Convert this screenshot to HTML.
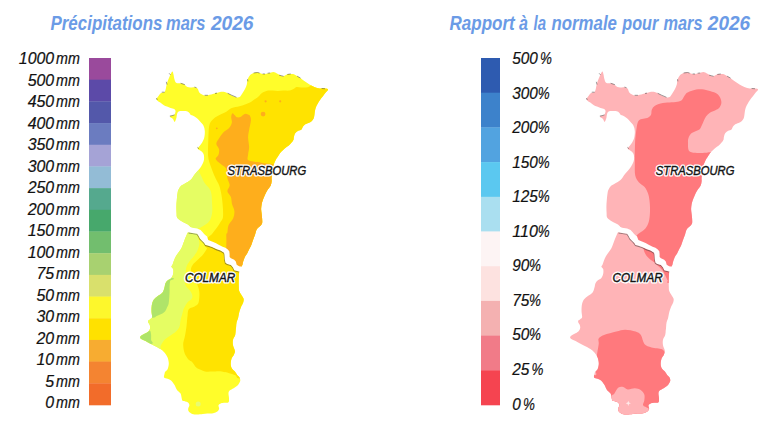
<!DOCTYPE html>
<html><head><meta charset="utf-8"><title>Précipitations mars 2026</title>
<style>
html,body{margin:0;padding:0;background:#fff;}
body{width:784px;height:426px;overflow:hidden;font-family:"Liberation Sans", sans-serif;}
svg{display:block;}
text{font-family:"Liberation Sans", sans-serif;}
.lg text{font-style:italic;font-size:16px;fill:#111;stroke:#111;stroke-width:0.2px;}
.title{font-style:italic;font-weight:bold;font-size:20px;fill:#6b9be6;}
.city{font-style:italic;font-size:12px;fill:#141414;stroke:#141414;stroke-width:0.4px;}
.city.halo{stroke:#fff;stroke-width:3px;stroke-linejoin:round;fill:#fff;}
</style></head>
<body>
<svg width="784" height="426" viewBox="0 0 784 426">
<defs>
</defs>
<clipPath id="lm_o"><path d="M172.4,71.4 C172.9,71.5 173.2,73.1 173.5,74.4 C173.8,75.7 174.0,77.8 174.4,79.1 C174.8,80.4 175.0,81.7 175.8,82.4 C176.6,83.1 177.9,83.1 179.1,83.3 C180.3,83.5 181.9,83.5 182.9,83.8 C183.9,84.1 184.4,84.7 185.2,85.2 C186.0,85.8 186.6,86.7 187.6,87.1 C188.6,87.5 190.2,87.4 191.4,87.4 C192.7,87.5 194.1,87.2 195.1,87.4 C196.1,87.6 197.0,87.8 197.7,88.7 C198.4,89.6 198.6,91.7 199.5,92.7 C200.4,93.7 201.8,94.5 203.0,94.9 C204.2,95.4 204.9,95.6 206.6,95.4 C208.2,95.2 210.8,94.5 212.9,94.0 C215.0,93.5 217.3,92.6 219.1,92.2 C220.9,91.8 222.3,91.7 223.6,91.8 C224.9,91.9 225.8,92.5 227.1,93.1 C228.4,93.7 230.1,94.7 231.6,95.4 C233.1,96.1 234.8,97.0 236.1,97.3 C237.4,97.6 238.6,97.7 239.6,97.1 C240.6,96.5 241.4,94.9 242.3,93.6 C243.2,92.3 244.2,90.6 245.0,89.1 C245.8,87.6 246.4,86.2 246.8,84.6 C247.2,83.0 247.1,80.9 247.7,79.3 C248.3,77.7 249.4,75.8 250.4,74.8 C251.4,73.8 252.7,73.4 253.9,73.0 C255.1,72.6 256.3,72.5 257.5,72.6 C258.7,72.7 260.1,73.2 261.1,73.5 C262.1,73.8 262.3,74.1 263.6,74.1 C264.9,74.0 267.3,73.5 268.9,73.2 C270.5,72.9 272.0,71.9 273.4,72.0 C274.8,72.1 275.8,73.0 277.0,73.6 C278.2,74.2 279.5,75.0 280.5,75.4 C281.5,75.9 282.1,76.5 283.2,76.3 C284.2,76.1 285.8,74.9 286.8,74.5 C287.9,74.1 288.5,74.2 289.5,74.1 C290.5,74.0 291.8,73.8 293.0,74.1 C294.2,74.4 295.6,75.2 296.6,75.8 C297.7,76.4 298.2,76.9 299.3,77.6 C300.4,78.3 301.6,79.0 302.9,79.9 C304.2,80.8 305.8,82.0 307.3,83.0 C308.8,84.0 310.2,84.9 311.8,85.7 C313.4,86.5 315.3,87.4 317.1,87.9 C318.9,88.4 320.7,88.4 322.5,88.6 C324.3,88.8 327.5,88.5 328.0,89.2 C328.5,89.9 326.6,91.3 325.7,92.5 C324.8,93.7 323.8,95.0 322.9,96.3 C321.9,97.5 320.9,98.8 320.0,100.0 C319.1,101.2 318.4,102.5 317.7,103.8 C317.0,105.0 316.3,106.2 315.8,107.5 C315.3,108.8 315.1,110.0 314.9,111.3 C314.7,112.5 314.6,113.8 314.4,115.0 C314.2,116.2 314.0,117.8 313.5,118.8 C313.0,119.8 312.4,120.6 311.6,121.3 C310.8,122.0 309.6,122.5 308.5,123.0 C307.4,123.5 305.9,123.9 305.0,124.5 C304.1,125.1 303.6,125.7 303.0,126.5 C302.4,127.3 302.3,128.7 301.5,129.4 C300.7,130.1 299.2,130.2 298.2,130.8 C297.2,131.4 296.1,132.1 295.4,133.1 C294.7,134.1 294.2,135.8 293.9,136.9 C293.6,138.0 293.9,138.8 293.5,139.7 C293.1,140.6 292.4,141.6 291.6,142.5 C290.8,143.4 289.9,144.5 288.8,145.4 C287.7,146.3 286.2,147.2 285.0,148.2 C283.8,149.2 282.4,150.5 281.5,151.5 C280.6,152.5 280.1,153.1 279.5,154.0 C278.9,154.9 278.2,156.2 277.6,157.0 C277.1,157.8 276.7,158.2 276.2,159.0 C275.7,159.8 275.2,161.0 274.8,162.0 C274.4,163.0 273.9,163.7 273.5,165.0 C273.1,166.3 272.8,167.9 272.5,170.0 C272.2,172.1 271.8,175.9 271.6,177.8 C271.5,179.7 271.8,180.3 271.6,181.6 C271.5,182.9 271.2,184.3 270.7,185.4 C270.2,186.5 269.4,187.3 268.8,188.2 C268.2,189.1 267.5,189.9 266.9,191.0 C266.3,192.1 265.6,193.5 265.0,194.7 C264.4,195.9 264.0,196.9 263.6,198.0 C263.2,199.1 262.8,199.9 262.5,201.0 C262.2,202.1 261.8,203.1 261.6,204.4 C261.4,205.8 261.1,207.5 261.1,209.1 C261.1,210.7 261.4,212.2 261.6,213.8 C261.8,215.4 262.0,216.9 262.1,218.5 C262.2,220.1 262.4,221.9 262.1,223.2 C261.8,224.4 260.9,225.2 260.2,226.0 C259.5,226.8 258.5,227.2 257.8,227.9 C257.1,228.7 256.7,229.3 256.2,230.5 C255.7,231.7 255.5,233.3 255.0,234.8 C254.5,236.3 253.8,237.7 253.2,239.4 C252.6,241.1 251.9,243.4 251.3,245.0 C250.7,246.6 250.1,247.4 249.4,248.8 C248.7,250.2 247.9,252.1 247.1,253.5 C246.3,254.9 245.3,255.9 244.7,257.2 C244.1,258.4 243.7,259.8 243.3,261.0 C242.9,262.2 242.7,263.8 242.4,264.7 C242.1,265.6 241.9,265.8 241.5,266.5 C241.1,267.2 240.4,268.1 240.0,269.0 C239.6,269.9 239.4,270.1 239.2,271.7 C239.0,273.3 238.9,276.4 238.8,278.8 C238.7,281.2 238.7,284.3 238.8,286.3 C238.9,288.3 238.7,289.5 239.2,291.0 C239.7,292.5 240.9,293.9 241.6,295.2 C242.3,296.5 243.3,297.6 243.6,298.8 C243.9,300.0 243.6,301.2 243.2,302.5 C242.8,303.8 241.9,305.1 241.3,306.3 C240.8,307.6 240.3,308.8 239.9,310.0 C239.5,311.2 239.2,312.4 238.9,313.8 C238.6,315.2 238.4,317.1 238.0,318.5 C237.6,319.9 236.9,320.8 236.6,322.2 C236.3,323.6 236.2,325.5 236.1,326.9 C235.9,328.3 235.8,329.3 235.7,330.7 C235.5,332.1 235.6,333.5 235.2,335.0 C234.8,336.5 233.4,338.0 233.0,339.7 C232.6,341.4 232.7,343.4 233.0,345.3 C233.3,347.2 234.8,349.4 234.9,351.0 C235.1,352.6 234.5,353.4 233.9,354.7 C233.3,355.9 232.1,357.1 231.6,358.5 C231.1,359.9 230.7,361.6 230.7,363.2 C230.7,364.8 230.9,366.5 231.6,367.9 C232.3,369.3 234.0,370.4 234.9,371.6 C235.8,372.8 236.4,374.0 237.2,375.0 C238.0,376.0 239.1,376.6 239.6,377.6 C240.1,378.6 240.5,379.8 240.2,381.1 C239.9,382.4 238.9,384.0 237.8,385.2 C236.7,386.4 235.1,387.3 233.7,388.2 C232.3,389.1 230.5,389.6 229.6,390.5 C228.7,391.4 228.6,392.2 228.5,393.5 C228.4,394.8 229.0,396.7 229.0,398.2 C229.0,399.7 229.2,401.5 228.5,402.3 C227.8,403.1 226.2,402.6 224.9,402.8 C223.6,403.0 221.9,403.0 220.8,403.4 C219.7,403.8 218.8,404.3 218.5,405.2 C218.2,406.1 219.3,407.6 219.1,408.7 C218.9,409.8 218.3,410.9 217.3,411.6 C216.3,412.4 214.9,412.9 213.2,413.2 C211.5,413.5 209.0,413.5 207.3,413.6 C205.6,413.7 204.5,413.8 202.8,414.0 C201.1,414.2 198.8,414.6 197.0,414.6 C195.2,414.6 193.7,414.5 192.3,414.0 C190.9,413.5 189.5,412.5 188.8,411.6 C188.1,410.7 188.1,409.8 188.2,408.7 C188.3,407.6 189.5,406.3 189.4,405.2 C189.3,404.1 188.7,403.0 187.6,402.3 C186.5,401.6 183.9,401.8 182.9,401.1 C181.9,400.4 182.1,399.5 181.7,398.2 C181.3,396.9 181.4,394.9 180.6,393.5 C179.8,392.1 178.0,391.3 177.0,389.9 C176.0,388.5 175.3,386.3 174.7,385.2 C174.1,384.1 174.1,384.2 173.5,383.4 C172.9,382.6 172.1,381.3 171.1,380.5 C170.1,379.7 168.8,379.2 167.6,378.7 C166.4,378.2 164.6,378.3 164.1,377.5 C163.6,376.7 164.3,375.0 164.5,374.0 C164.7,373.0 164.7,372.5 165.2,371.7 C165.7,370.9 167.0,370.7 167.6,369.3 C168.2,367.9 168.8,365.4 168.8,363.5 C168.8,361.6 168.2,359.3 167.6,357.6 C167.0,355.9 166.2,354.8 165.2,353.5 C164.2,352.2 163.2,351.2 161.7,350.0 C160.1,348.8 157.8,347.6 155.9,346.5 C154.0,345.4 151.7,344.4 150.0,343.5 C148.3,342.6 147.0,341.9 145.6,341.1 C144.2,340.4 142.2,339.7 141.3,339.0 C140.4,338.3 139.9,337.6 140.1,336.9 C140.3,336.2 141.8,335.3 142.7,334.7 C143.6,334.1 144.5,333.9 145.5,333.3 C146.5,332.7 148.0,331.8 148.8,330.9 C149.6,330.0 150.0,329.1 150.2,328.1 C150.3,327.1 150.0,325.7 149.7,324.8 C149.4,323.9 148.5,323.2 148.3,322.5 C148.1,321.8 148.0,321.2 148.3,320.6 C148.6,320.1 149.6,319.8 150.2,319.2 C150.8,318.6 151.9,318.5 152.1,317.3 C152.3,316.1 151.7,313.8 151.6,312.2 C151.5,310.6 151.5,308.9 151.6,307.5 C151.7,306.1 151.8,304.8 152.1,303.7 C152.4,302.6 152.8,301.6 153.2,300.8 C153.6,300.0 153.6,299.8 154.4,299.0 C155.2,298.2 156.5,297.2 157.9,296.1 C159.3,295.0 161.5,293.9 162.6,292.5 C163.7,291.1 163.9,289.4 164.4,287.8 C164.9,286.2 164.9,284.5 165.5,283.2 C166.1,281.9 166.9,281.1 167.9,280.2 C168.9,279.3 170.5,279.0 171.4,277.9 C172.3,276.8 172.9,275.3 173.2,273.8 C173.5,272.3 173.5,270.3 173.2,269.1 C172.9,267.9 171.5,267.5 171.4,266.7 C171.3,265.9 172.1,265.6 172.6,264.4 C173.1,263.2 173.6,261.3 174.3,259.7 C175.0,258.1 175.5,256.9 176.7,255.0 C177.9,253.1 180.2,250.5 181.4,248.2 C182.7,245.9 183.0,243.9 184.2,241.1 C185.3,238.3 187.1,233.6 188.3,231.6 C189.5,229.6 191.3,230.0 191.5,229.0 C191.7,228.0 190.1,226.6 189.3,225.7 C188.5,224.8 187.5,224.4 186.5,223.8 C185.5,223.2 184.5,222.8 183.4,222.2 C182.3,221.6 181.1,221.0 180.0,220.2 C178.9,219.4 177.7,218.7 177.1,217.5 C176.5,216.3 176.7,214.8 176.6,213.0 C176.5,211.2 176.4,209.2 176.4,207.0 C176.4,204.8 176.6,202.3 176.8,200.0 C177.0,197.7 177.3,194.7 177.6,192.9 C177.9,191.2 178.0,190.7 178.6,189.5 C179.2,188.3 180.0,186.8 181.1,185.8 C182.2,184.8 183.4,184.5 185.0,183.5 C186.6,182.5 188.8,181.6 190.5,180.0 C192.2,178.4 193.4,176.0 195.0,174.0 C196.6,172.0 198.8,169.5 199.9,168.2 C201.0,166.9 200.7,167.3 201.3,166.3 C201.9,165.3 202.9,163.5 203.4,162.1 C203.9,160.7 204.1,159.3 204.1,157.9 C204.1,156.5 204.0,154.9 203.4,153.7 C202.8,152.5 201.6,151.6 200.6,150.8 C199.6,150.0 198.0,149.3 197.7,148.7 C197.3,148.1 197.9,148.1 198.5,147.3 C199.1,146.5 200.4,145.3 201.3,143.8 C202.2,142.3 203.5,140.3 204.1,138.2 C204.7,136.1 204.9,133.2 204.8,131.1 C204.7,129.0 204.2,127.1 203.4,125.5 C202.6,123.9 200.9,122.5 199.9,121.3 C198.9,120.1 198.2,119.4 197.3,118.6 C196.4,117.8 195.6,117.0 194.5,116.4 C193.4,115.8 191.8,115.6 191.0,115.1 C190.2,114.6 190.2,113.9 189.6,113.3 C189.0,112.7 188.4,111.9 187.5,111.5 C186.6,111.1 185.1,111.2 183.9,111.1 C182.7,111.0 181.4,111.0 180.4,111.1 C179.4,111.2 178.6,111.3 178.0,111.9 C177.4,112.5 177.2,113.8 176.9,114.7 C176.7,115.6 176.7,116.5 176.5,117.5 C176.3,118.5 175.8,119.7 175.5,120.4 C175.2,121.1 174.8,122.0 174.4,121.8 C174.0,121.5 173.6,119.6 173.0,118.9 C172.4,118.2 171.1,118.0 170.6,117.5 C170.1,117.0 170.0,116.4 170.2,116.1 C170.4,115.8 171.3,116.0 172.0,115.8 C172.7,115.6 173.6,115.5 174.1,115.1 C174.6,114.7 174.9,114.0 175.1,113.3 C175.3,112.6 175.7,111.5 175.5,110.8 C175.3,110.1 174.9,109.6 174.1,109.1 C173.3,108.6 171.8,108.4 170.6,108.0 C169.4,107.6 168.2,107.1 167.0,106.6 C165.8,106.1 164.6,105.6 163.5,104.9 C162.4,104.2 161.3,103.3 160.3,102.6 C159.3,101.9 158.1,101.3 157.5,100.7 C156.9,100.1 156.4,99.6 156.6,98.8 C156.8,98.0 157.8,96.9 158.5,96.0 C159.2,95.1 159.9,93.8 160.8,93.2 C161.7,92.6 163.3,92.8 164.1,92.3 C164.9,91.8 165.1,91.0 165.5,89.9 C165.9,88.8 166.1,87.0 166.4,85.7 C166.7,84.4 166.9,83.3 167.4,81.9 C167.9,80.5 168.8,78.5 169.3,77.2 C169.9,75.9 170.2,74.9 170.7,73.9 C171.2,72.9 171.9,71.3 172.4,71.4 Z"/></clipPath>
<clipPath id="lm_n"><path d="M100.0,30.0 L380.0,30.0 L380.0,271.3 L244.0,269.5 L239.0,269.2 L235.2,267.8 L234.8,265.0 L232.5,262.6 L229.0,261.2 L227.2,259.5 L227.2,255.0 L225.8,251.5 L222.7,249.3 L216.9,246.3 L210.5,242.5 L206.8,240.3 L203.3,237.3 L201.5,234.5 L198.7,231.5 L194.1,230.5 L188.3,229.2 L184.0,228.8 L100.0,228.8 Z"/></clipPath>
<clipPath id="lm_s"><path d="M100.0,228.8 L184.0,228.8 L188.3,229.2 L194.1,230.5 L198.7,231.5 L201.5,234.5 L203.3,237.3 L206.8,240.3 L210.5,242.5 L216.9,246.3 L222.7,249.3 L225.8,251.5 L227.2,255.0 L227.2,259.5 L229.0,261.2 L232.5,262.6 L234.8,265.0 L235.2,267.8 L239.0,269.2 L244.0,269.5 L380.0,271.3 L380.0,440.0 L100.0,440.0 Z"/></clipPath>
<g clip-path="url(#lm_o)">
<rect x="120" y="60" width="220" height="370" fill="#fffd2a"/>
<g clip-path="url(#lm_n)">
<path d="M198.5,170.5 C199.6,172.3 200.7,175.0 201.7,177.0 C202.7,179.0 203.0,180.5 204.3,182.6 C205.7,184.7 208.6,187.3 209.8,189.3 C211.0,191.3 211.1,192.4 211.5,194.5 C211.9,196.6 211.9,199.3 212.0,202.0 C212.1,204.7 212.5,208.1 212.3,210.7 C212.1,213.3 211.7,215.8 211.0,217.8 C210.3,219.8 209.5,221.3 208.0,222.8 C206.5,224.3 204.1,225.6 202.0,226.7 C199.9,227.8 200.5,227.9 195.2,229.5 C189.9,231.1 174.5,246.2 170.0,236.0 C165.5,225.8 163.8,179.7 168.0,168.0 C172.2,156.3 189.9,165.6 195.0,166.0 C200.1,166.4 197.4,168.7 198.5,170.5 Z" fill="#e5fd63"/>
<path d="M206.0,242.0 C203.7,239.0 210.2,236.4 212.0,234.0 C213.8,231.6 215.6,229.5 217.0,227.5 C218.4,225.5 219.5,223.7 220.5,222.0 C221.5,220.3 222.5,219.8 222.9,217.5 C223.3,215.2 223.1,211.5 222.9,208.0 C222.7,204.5 222.3,200.1 221.7,196.4 C221.1,192.7 220.3,188.7 219.3,185.8 C218.3,182.9 217.0,181.4 215.8,178.8 C214.6,176.2 213.5,173.8 212.3,170.5 C211.1,167.2 209.2,162.5 208.5,159.0 C207.8,155.5 208.0,152.6 208.0,149.4 C208.0,146.2 208.2,142.9 208.3,140.0 C208.4,137.1 208.4,134.3 208.6,132.0 C208.8,129.7 208.8,127.8 209.2,126.0 C209.6,124.2 210.0,122.9 211.0,121.5 C212.0,120.1 213.6,118.6 215.0,117.5 C216.4,116.4 217.9,115.8 219.5,115.0 C221.1,114.2 223.0,113.5 224.4,112.8 C225.8,112.0 226.8,111.3 228.0,110.5 C229.2,109.7 230.0,108.8 231.9,108.1 C233.8,107.4 237.2,106.9 239.4,106.3 C241.6,105.7 243.2,105.0 245.0,104.4 C246.8,103.8 248.3,103.4 250.0,102.5 C251.7,101.6 253.6,100.1 255.1,99.1 C256.6,98.1 257.7,97.3 258.8,96.3 C259.9,95.3 260.6,93.9 262.0,93.0 C263.4,92.1 265.4,91.2 267.1,90.8 C268.9,90.4 270.7,90.6 272.5,90.6 C274.3,90.6 276.1,91.0 277.9,91.0 C279.7,91.0 281.3,90.7 283.2,90.6 C285.1,90.5 287.7,90.9 289.5,90.6 C291.3,90.3 292.7,89.4 293.9,88.8 C295.1,88.2 295.4,87.2 296.6,87.0 C297.8,86.8 299.5,87.3 301.1,87.4 C302.7,87.5 304.8,87.8 306.4,87.4 C308.0,87.0 307.1,88.1 311.0,85.2 C314.9,82.3 324.3,72.5 330.0,70.0 C335.7,67.5 342.5,34.2 345.0,70.0 C347.5,105.8 362.5,249.2 345.0,285.0 C327.5,320.8 259.8,290.5 240.0,285.0 C220.2,279.5 231.7,259.2 226.0,252.0 C220.3,244.8 208.3,245.0 206.0,242.0 Z" fill="#ffe300"/>
<path d="M232.5,113.3 C233.1,113.0 233.8,114.3 234.5,115.0 C235.2,115.7 236.0,117.0 237.0,117.3 C238.0,117.6 239.6,117.4 240.6,117.0 C241.6,116.6 242.2,115.5 243.0,115.0 C243.8,114.5 244.5,113.9 245.3,113.8 C246.1,113.7 247.2,114.2 248.0,114.5 C248.8,114.8 249.5,114.9 250.0,115.9 C250.5,116.9 251.1,118.2 250.9,120.6 C250.8,122.9 249.6,127.2 249.1,130.0 C248.6,132.8 248.1,134.7 248.1,137.5 C248.1,140.3 249.1,144.1 249.1,146.9 C249.1,149.7 248.3,152.3 248.1,154.4 C247.9,156.5 247.0,158.5 247.8,159.7 C248.7,160.9 251.6,161.2 253.2,161.6 C254.8,162.0 255.9,161.8 257.3,162.0 C258.7,162.2 259.9,162.5 261.4,162.8 C262.9,163.1 264.8,163.4 266.4,163.6 C268.0,163.8 270.0,163.9 271.3,164.0 C272.6,164.1 271.7,164.4 274.0,164.2 C276.3,164.0 280.7,162.0 285.0,163.0 C289.3,164.0 297.5,149.7 300.0,170.0 C302.5,190.3 312.0,265.8 300.0,285.0 C288.0,304.2 240.3,290.0 228.0,285.0 C215.7,280.0 226.7,262.5 226.4,255.0 C226.1,247.5 226.4,243.5 226.4,240.0 C226.4,236.5 226.2,235.3 226.4,234.0 C226.6,232.7 227.1,233.8 227.4,232.4 C227.8,231.0 227.5,227.7 228.5,225.3 C229.5,222.9 232.2,220.5 233.2,218.2 C234.2,215.8 234.6,213.5 234.4,211.2 C234.2,208.8 232.6,206.5 232.0,204.1 C231.4,201.7 231.7,199.2 230.9,197.0 C230.1,194.8 227.6,193.1 227.4,191.2 C227.2,189.2 229.7,187.5 229.7,185.3 C229.7,183.1 228.0,180.9 227.4,178.2 C226.8,175.4 227.1,171.0 226.2,168.8 C225.3,166.6 223.4,166.2 222.0,165.0 C220.6,163.8 219.0,162.9 217.9,161.8 C216.8,160.7 215.5,159.6 215.6,158.5 C215.7,157.4 217.8,156.5 218.4,155.0 C219.0,153.5 219.4,151.3 219.1,149.4 C218.8,147.5 216.3,145.7 216.3,143.8 C216.3,141.9 217.9,140.1 219.1,138.2 C220.3,136.3 221.7,134.2 223.3,132.5 C224.9,130.8 227.5,129.9 228.9,128.3 C230.3,126.7 231.4,124.6 231.8,122.7 C232.2,120.8 231.1,118.6 231.2,117.0 C231.3,115.4 231.9,113.6 232.5,113.3 Z" fill="#feae1c"/>
</g>
<g clip-path="url(#lm_s)">
<path d="M197.5,235.6 C198.2,238.6 199.4,240.6 199.4,243.1 C199.4,245.6 198.4,248.4 197.5,250.6 C196.6,252.8 195.2,254.4 193.8,256.3 C192.4,258.2 190.3,260.0 189.1,261.9 C187.8,263.8 186.9,265.0 186.3,267.5 C185.7,270.0 185.5,274.0 185.3,276.9 C185.1,279.8 184.5,282.4 185.3,284.7 C186.1,287.0 188.8,288.8 190.0,290.6 C191.2,292.4 192.0,293.9 192.3,295.3 C192.6,296.7 192.5,297.6 191.7,298.8 C190.9,300.0 188.7,301.1 187.6,302.3 C186.5,303.5 186.0,304.6 185.3,305.8 C184.6,307.0 184.0,307.9 183.5,309.3 C183.0,310.7 182.8,312.2 182.3,314.0 C181.8,315.8 181.1,317.7 180.6,319.9 C180.1,322.1 180.2,325.1 179.4,327.0 C178.6,328.9 177.2,330.2 176.0,331.5 C174.8,332.8 173.8,333.1 171.9,334.5 C170.0,335.9 166.3,338.2 164.4,340.1 C162.5,342.0 161.8,344.1 160.7,345.7 C159.6,347.3 163.1,348.9 158.0,350.0 C152.9,351.1 134.7,372.8 130.0,352.0 C125.3,331.2 119.2,246.2 130.0,225.0 C140.8,203.8 183.8,223.2 195.0,225.0 C206.2,226.8 196.8,232.6 197.5,235.6 Z" fill="#e5fd63"/>
<path d="M171.4,277.5 C178.1,279.3 170.5,279.4 170.2,280.8 C169.9,282.2 169.7,284.4 169.6,286.0 C169.5,287.6 169.6,288.4 169.6,290.2 C169.6,292.0 169.5,294.8 169.3,297.0 C169.1,299.2 169.0,301.9 168.6,303.7 C168.2,305.4 167.6,306.2 167.0,307.5 C166.4,308.8 166.1,310.1 165.2,311.2 C164.3,312.3 162.8,313.3 161.4,314.1 C160.0,314.9 158.2,315.3 156.7,315.9 C155.1,316.5 156.5,317.4 152.1,317.8 C147.7,318.2 133.7,326.0 130.0,318.0 C126.3,310.0 123.1,276.8 130.0,270.0 C136.9,263.2 164.7,275.7 171.4,277.5 Z" fill="#afe469"/>
<path d="M138.0,336.5 C139.7,337.4 139.0,336.1 139.9,335.6 C140.8,335.1 142.3,334.3 143.6,333.7 C144.8,333.1 146.3,332.4 147.4,331.9 C148.5,331.4 149.6,330.4 150.2,330.9 C150.8,331.4 150.9,333.2 151.1,334.7 C151.2,336.2 151.1,338.4 151.1,340.0 C151.1,341.6 154.8,343.2 151.3,344.0 C147.8,344.8 133.6,347.3 130.0,345.0 C126.5,342.7 128.7,331.4 130.0,330.0 C131.3,328.6 136.3,335.6 138.0,336.5 Z" fill="#afe469"/>
<path d="M209.0,244.0 C200.2,245.5 207.9,247.1 206.9,248.8 C205.9,250.5 204.7,252.5 203.1,254.4 C201.5,256.3 199.2,258.3 197.5,260.0 C195.8,261.7 193.9,263.1 192.8,264.7 C191.7,266.3 191.0,267.8 190.9,269.4 C190.8,270.9 191.2,272.2 192.0,274.0 C192.8,275.8 194.5,277.8 195.5,280.0 C196.5,282.2 197.6,285.1 198.2,287.0 C198.8,288.9 199.1,289.9 199.3,291.7 C199.5,293.5 199.5,295.6 199.3,297.6 C199.1,299.6 199.0,302.0 198.2,303.5 C197.4,305.0 196.0,305.6 194.6,306.4 C193.2,307.2 191.1,307.5 190.0,308.2 C188.9,308.9 188.6,309.3 188.2,310.5 C187.8,311.7 187.8,313.4 187.6,315.2 C187.4,317.0 187.2,319.1 187.0,321.1 C186.8,323.1 186.7,325.0 186.4,327.0 C186.2,329.0 185.8,331.2 185.5,333.0 C185.2,334.8 184.9,336.2 184.5,338.0 C184.1,339.8 183.3,341.6 183.2,343.8 C183.1,346.0 183.6,349.4 184.1,351.4 C184.6,353.4 185.2,354.6 186.0,356.0 C186.8,357.4 188.0,359.0 189.0,360.0 C190.0,361.0 190.9,360.7 192.1,362.0 C193.3,363.3 195.0,366.4 196.3,367.6 C197.6,368.9 198.6,368.9 200.0,369.5 C201.4,370.1 203.0,371.1 205.0,371.5 C207.0,371.9 209.7,371.7 212.0,371.6 C214.3,371.6 217.1,371.1 219.1,371.2 C221.1,371.3 222.4,371.7 224.0,372.0 C225.6,372.3 226.6,372.3 228.5,372.9 C230.4,373.4 233.7,374.4 235.5,375.3 C237.3,376.2 235.5,378.1 239.6,378.5 C243.7,378.9 256.6,401.1 260.0,378.0 C263.4,354.9 268.5,262.3 260.0,240.0 C251.5,217.7 217.8,242.5 209.0,244.0 Z" fill="#ffe300"/>
</g>
<circle cx="263.1" cy="114.1" r="2.4" fill="#feae1c"/>
<circle cx="265.6" cy="101.3" r="1.1" fill="#feae1c"/>
<circle cx="280.2" cy="101.3" r="1.1" fill="#feae1c"/>
<circle cx="216.8" cy="128.3" r="0.9" fill="#feae1c"/>
<circle cx="198.2" cy="404.0" r="2.5" fill="#e8fb72"/>
</g>
<path d="M228.0,93.4 L231.6,95.2 L236.1,97.1 M254.0,72.9 L257.5,72.5 L259.2,72.9 M279.6,75.3 L283.2,76.2 M297.5,76.4 L300.2,77.9 M162.2,92.2 L164.2,92.2 M170.2,116.0 L172.0,115.7 L174.1,115.0 M263.0,73.9 L264.6,74.0 M268.0,73.2 L269.8,73.0 M287.7,74.4 L290.4,74.0 M322.0,88.5 L324.6,88.7 M205.0,95.3 L207.5,95.3 M181.0,83.4 L184.5,84.5 M166.4,82.2 L166.9,84.2 M156.6,98.4 L157.1,99.6 M169.4,73.6 L170.3,74.6 M194.8,87.2 L196.2,87.6 M215.4,93.4 L216.6,93.2 M247.6,79.6 L247.8,81.0 M197.7,147.6 L198.6,148.4" fill="none" stroke="#2a2a2a" stroke-opacity="0.5" stroke-width="0.9" stroke-linecap="round"/>
<path d="M188.6,232.3 L192.2,233.0 L197.1,233.7 L198.5,235.8 L199.9,238.6 L202.0,240.7 L204.1,242.8 L205.5,244.9 L207.8,245.6 L212.0,247.0 L216.3,249.1 L220.5,250.6 L224.0,252.7 L224.4,254.4 L224.7,259.3 L225.5,262.8 L227.2,263.9 L230.9,265.0 L233.0,267.4 L234.2,270.3 L239.1,271.5" fill="none" stroke="#3a3a3a" stroke-opacity="0.5" stroke-width="1.2" transform="translate(0,0.5)"/>
<path d="M186.0,226.0 L188.6,226.3 L192.2,227.7 L197.1,228.5 L200.6,229.9 L202.7,232.3 L204.1,234.1 L205.5,235.2 L207.1,236.5 L208.2,240.0 L212.0,241.5 L215.6,242.9 L219.1,245.0 L222.6,246.7 L225.4,247.8 L227.5,249.2 L229.3,251.3 L229.6,254.1 L229.6,257.0 L231.0,258.3 L234.2,259.7 L235.8,261.4 L236.7,264.7 L239.1,266.3 L242.0,266.7 L245.0,266.7 L245.0,271.8 L239.1,271.5 L234.2,270.3 L233.0,267.4 L230.9,265.0 L227.2,263.9 L225.5,262.8 L224.7,259.3 L224.4,254.4 L224.0,252.7 L220.5,250.6 L216.3,249.1 L212.0,247.0 L207.8,245.6 L205.5,244.9 L204.1,242.8 L202.0,240.7 L199.9,238.6 L198.5,235.8 L197.1,233.7 L192.2,233.0 L188.6,232.3 L186.0,232.3 Z" fill="#ffffff"/>
<clipPath id="rm_o"><path d="M602.4,71.4 C602.9,71.5 603.2,73.1 603.5,74.4 C603.8,75.7 604.0,77.8 604.4,79.1 C604.8,80.4 605.0,81.7 605.8,82.4 C606.6,83.1 607.9,83.1 609.1,83.3 C610.3,83.5 611.9,83.5 612.9,83.8 C613.9,84.1 614.4,84.7 615.2,85.2 C616.0,85.8 616.6,86.7 617.6,87.1 C618.6,87.5 620.1,87.4 621.4,87.4 C622.6,87.5 624.0,87.2 625.1,87.4 C626.2,87.6 627.0,87.8 627.7,88.7 C628.4,89.6 628.6,91.7 629.5,92.7 C630.4,93.7 631.8,94.5 633.0,94.9 C634.2,95.4 635.0,95.6 636.6,95.4 C638.2,95.2 640.8,94.5 642.9,94.0 C645.0,93.5 647.3,92.6 649.1,92.2 C650.9,91.8 652.3,91.7 653.6,91.8 C654.9,91.9 655.8,92.5 657.1,93.1 C658.4,93.7 660.1,94.7 661.6,95.4 C663.1,96.1 664.8,97.0 666.1,97.3 C667.4,97.6 668.6,97.7 669.6,97.1 C670.6,96.5 671.4,94.9 672.3,93.6 C673.2,92.3 674.2,90.6 675.0,89.1 C675.8,87.6 676.3,86.2 676.8,84.6 C677.2,83.0 677.1,80.9 677.7,79.3 C678.3,77.7 679.4,75.8 680.4,74.8 C681.4,73.8 682.7,73.4 683.9,73.0 C685.1,72.6 686.3,72.5 687.5,72.6 C688.7,72.7 690.1,73.2 691.1,73.5 C692.1,73.8 692.3,74.1 693.6,74.1 C694.9,74.0 697.3,73.5 698.9,73.2 C700.5,72.9 702.0,71.9 703.4,72.0 C704.8,72.1 705.8,73.0 707.0,73.6 C708.2,74.2 709.5,75.0 710.5,75.4 C711.5,75.9 712.2,76.5 713.2,76.3 C714.2,76.1 715.8,74.9 716.8,74.5 C717.8,74.1 718.5,74.2 719.5,74.1 C720.5,74.0 721.8,73.8 723.0,74.1 C724.2,74.4 725.6,75.2 726.6,75.8 C727.6,76.4 728.2,76.9 729.3,77.6 C730.3,78.3 731.6,79.0 732.9,79.9 C734.2,80.8 735.8,82.0 737.3,83.0 C738.8,84.0 740.2,84.9 741.8,85.7 C743.4,86.5 745.3,87.4 747.1,87.9 C748.9,88.4 750.7,88.4 752.5,88.6 C754.3,88.8 757.5,88.5 758.0,89.2 C758.5,89.9 756.6,91.3 755.7,92.5 C754.9,93.7 753.9,95.0 752.9,96.3 C751.9,97.5 750.9,98.8 750.0,100.0 C749.1,101.2 748.4,102.5 747.7,103.8 C747.0,105.0 746.3,106.2 745.8,107.5 C745.3,108.8 745.1,110.0 744.9,111.3 C744.7,112.5 744.6,113.8 744.4,115.0 C744.2,116.2 744.0,117.8 743.5,118.8 C743.0,119.8 742.4,120.6 741.6,121.3 C740.8,122.0 739.6,122.5 738.5,123.0 C737.4,123.5 735.9,123.9 735.0,124.5 C734.1,125.1 733.6,125.7 733.0,126.5 C732.4,127.3 732.3,128.7 731.5,129.4 C730.7,130.1 729.2,130.2 728.2,130.8 C727.2,131.4 726.1,132.1 725.4,133.1 C724.7,134.1 724.2,135.8 723.9,136.9 C723.6,138.0 723.9,138.8 723.5,139.7 C723.1,140.6 722.4,141.6 721.6,142.5 C720.8,143.4 719.9,144.5 718.8,145.4 C717.7,146.3 716.2,147.2 715.0,148.2 C713.8,149.2 712.4,150.5 711.5,151.5 C710.6,152.5 710.1,153.1 709.5,154.0 C708.9,154.9 708.1,156.2 707.6,157.0 C707.1,157.8 706.7,158.2 706.2,159.0 C705.7,159.8 705.2,161.0 704.8,162.0 C704.3,163.0 703.9,163.7 703.5,165.0 C703.1,166.3 702.8,167.9 702.5,170.0 C702.2,172.1 701.8,175.9 701.6,177.8 C701.5,179.7 701.8,180.3 701.6,181.6 C701.5,182.9 701.2,184.3 700.7,185.4 C700.2,186.5 699.4,187.3 698.8,188.2 C698.2,189.1 697.5,189.9 696.9,191.0 C696.3,192.1 695.5,193.5 695.0,194.7 C694.5,195.9 694.0,196.9 693.6,198.0 C693.2,199.1 692.8,199.9 692.5,201.0 C692.2,202.1 691.8,203.1 691.6,204.4 C691.4,205.8 691.1,207.5 691.1,209.1 C691.1,210.7 691.4,212.2 691.6,213.8 C691.8,215.4 692.0,216.9 692.1,218.5 C692.2,220.1 692.4,221.9 692.1,223.2 C691.8,224.4 690.9,225.2 690.2,226.0 C689.5,226.8 688.5,227.2 687.8,227.9 C687.1,228.7 686.7,229.3 686.2,230.5 C685.7,231.7 685.5,233.3 685.0,234.8 C684.5,236.3 683.8,237.7 683.2,239.4 C682.6,241.1 681.9,243.4 681.3,245.0 C680.7,246.6 680.1,247.4 679.4,248.8 C678.7,250.2 677.9,252.1 677.1,253.5 C676.3,254.9 675.3,255.9 674.7,257.2 C674.1,258.4 673.7,259.8 673.3,261.0 C672.9,262.2 672.7,263.8 672.4,264.7 C672.1,265.6 671.9,265.8 671.5,266.5 C671.1,267.2 670.4,268.1 670.0,269.0 C669.6,269.9 669.4,270.1 669.2,271.7 C669.0,273.3 668.9,276.4 668.8,278.8 C668.7,281.2 668.7,284.3 668.8,286.3 C668.9,288.3 668.7,289.5 669.2,291.0 C669.7,292.5 670.9,293.9 671.6,295.2 C672.3,296.5 673.3,297.6 673.6,298.8 C673.9,300.0 673.6,301.2 673.2,302.5 C672.8,303.8 671.8,305.1 671.3,306.3 C670.8,307.6 670.3,308.8 669.9,310.0 C669.5,311.2 669.2,312.4 668.9,313.8 C668.6,315.2 668.4,317.1 668.0,318.5 C667.6,319.9 666.9,320.8 666.6,322.2 C666.3,323.6 666.2,325.5 666.1,326.9 C666.0,328.3 665.9,329.3 665.7,330.7 C665.6,332.1 665.7,333.5 665.2,335.0 C664.8,336.5 663.4,338.0 663.0,339.7 C662.6,341.4 662.7,343.4 663.0,345.3 C663.3,347.2 664.8,349.4 664.9,351.0 C665.0,352.6 664.4,353.4 663.9,354.7 C663.4,355.9 662.1,357.1 661.6,358.5 C661.1,359.9 660.7,361.6 660.7,363.2 C660.7,364.8 660.9,366.5 661.6,367.9 C662.3,369.3 664.0,370.4 664.9,371.6 C665.8,372.8 666.4,374.0 667.2,375.0 C668.0,376.0 669.1,376.6 669.6,377.6 C670.1,378.6 670.5,379.8 670.2,381.1 C669.9,382.4 668.9,384.0 667.8,385.2 C666.7,386.4 665.1,387.3 663.7,388.2 C662.3,389.1 660.5,389.6 659.6,390.5 C658.7,391.4 658.6,392.2 658.5,393.5 C658.4,394.8 659.0,396.7 659.0,398.2 C659.0,399.7 659.2,401.5 658.5,402.3 C657.8,403.1 656.2,402.6 654.9,402.8 C653.6,403.0 651.9,403.0 650.8,403.4 C649.7,403.8 648.8,404.3 648.5,405.2 C648.2,406.1 649.3,407.6 649.1,408.7 C648.9,409.8 648.3,410.9 647.3,411.6 C646.3,412.4 644.9,412.9 643.2,413.2 C641.5,413.5 639.0,413.5 637.3,413.6 C635.6,413.7 634.5,413.8 632.8,414.0 C631.1,414.2 628.8,414.6 627.0,414.6 C625.2,414.6 623.7,414.5 622.3,414.0 C620.9,413.5 619.5,412.5 618.8,411.6 C618.1,410.7 618.1,409.8 618.2,408.7 C618.3,407.6 619.5,406.3 619.4,405.2 C619.3,404.1 618.7,403.0 617.6,402.3 C616.5,401.6 613.9,401.8 612.9,401.1 C611.9,400.4 612.1,399.5 611.7,398.2 C611.3,396.9 611.4,394.9 610.6,393.5 C609.8,392.1 608.0,391.3 607.0,389.9 C606.0,388.5 605.3,386.3 604.7,385.2 C604.1,384.1 604.1,384.2 603.5,383.4 C602.9,382.6 602.1,381.3 601.1,380.5 C600.1,379.7 598.8,379.2 597.6,378.7 C596.4,378.2 594.6,378.3 594.1,377.5 C593.6,376.7 594.3,375.0 594.5,374.0 C594.7,373.0 594.7,372.5 595.2,371.7 C595.7,370.9 597.0,370.7 597.6,369.3 C598.2,367.9 598.8,365.4 598.8,363.5 C598.8,361.6 598.2,359.3 597.6,357.6 C597.0,355.9 596.2,354.8 595.2,353.5 C594.2,352.2 593.2,351.2 591.7,350.0 C590.2,348.8 587.9,347.6 585.9,346.5 C583.9,345.4 581.7,344.4 580.0,343.5 C578.3,342.6 577.1,341.9 575.6,341.1 C574.1,340.4 572.2,339.7 571.3,339.0 C570.4,338.3 569.9,337.6 570.1,336.9 C570.3,336.2 571.8,335.3 572.7,334.7 C573.6,334.1 574.5,333.9 575.5,333.3 C576.5,332.7 578.0,331.8 578.8,330.9 C579.6,330.0 580.1,329.1 580.2,328.1 C580.4,327.1 580.0,325.7 579.7,324.8 C579.4,323.9 578.5,323.2 578.3,322.5 C578.1,321.8 578.0,321.2 578.3,320.6 C578.6,320.1 579.6,319.8 580.2,319.2 C580.8,318.6 581.9,318.5 582.1,317.3 C582.3,316.1 581.7,313.8 581.6,312.2 C581.5,310.6 581.5,308.9 581.6,307.5 C581.7,306.1 581.8,304.8 582.1,303.7 C582.4,302.6 582.8,301.6 583.2,300.8 C583.6,300.0 583.6,299.8 584.4,299.0 C585.2,298.2 586.5,297.2 587.9,296.1 C589.3,295.0 591.5,293.9 592.6,292.5 C593.7,291.1 593.9,289.4 594.4,287.8 C594.9,286.2 594.9,284.5 595.5,283.2 C596.1,281.9 596.9,281.1 597.9,280.2 C598.9,279.3 600.5,279.0 601.4,277.9 C602.3,276.8 602.9,275.3 603.2,273.8 C603.5,272.3 603.5,270.3 603.2,269.1 C602.9,267.9 601.5,267.5 601.4,266.7 C601.3,265.9 602.1,265.6 602.6,264.4 C603.1,263.2 603.6,261.3 604.3,259.7 C605.0,258.1 605.5,256.9 606.7,255.0 C607.9,253.1 610.1,250.5 611.4,248.2 C612.6,245.9 613.1,243.9 614.2,241.1 C615.4,238.3 617.1,233.6 618.3,231.6 C619.5,229.6 621.3,230.0 621.5,229.0 C621.7,228.0 620.1,226.6 619.3,225.7 C618.5,224.8 617.5,224.4 616.5,223.8 C615.5,223.2 614.5,222.8 613.4,222.2 C612.3,221.6 611.0,221.0 610.0,220.2 C609.0,219.4 607.7,218.7 607.1,217.5 C606.5,216.3 606.7,214.8 606.6,213.0 C606.5,211.2 606.4,209.2 606.4,207.0 C606.4,204.8 606.6,202.3 606.8,200.0 C607.0,197.7 607.3,194.7 607.6,192.9 C607.9,191.2 608.0,190.7 608.6,189.5 C609.2,188.3 610.0,186.8 611.1,185.8 C612.2,184.8 613.4,184.5 615.0,183.5 C616.6,182.5 618.8,181.6 620.5,180.0 C622.2,178.4 623.4,176.0 625.0,174.0 C626.6,172.0 628.9,169.5 629.9,168.2 C630.9,166.9 630.7,167.3 631.3,166.3 C631.9,165.3 632.9,163.5 633.4,162.1 C633.9,160.7 634.1,159.3 634.1,157.9 C634.1,156.5 634.0,154.9 633.4,153.7 C632.8,152.5 631.5,151.6 630.6,150.8 C629.7,150.0 628.1,149.3 627.7,148.7 C627.4,148.1 627.9,148.1 628.5,147.3 C629.1,146.5 630.4,145.3 631.3,143.8 C632.2,142.3 633.5,140.3 634.1,138.2 C634.7,136.1 634.9,133.2 634.8,131.1 C634.7,129.0 634.2,127.1 633.4,125.5 C632.6,123.9 630.9,122.5 629.9,121.3 C628.9,120.1 628.2,119.4 627.3,118.6 C626.4,117.8 625.5,117.0 624.5,116.4 C623.5,115.8 621.8,115.6 621.0,115.1 C620.2,114.6 620.2,113.9 619.6,113.3 C619.0,112.7 618.5,111.9 617.5,111.5 C616.5,111.1 615.1,111.2 613.9,111.1 C612.7,111.0 611.4,111.0 610.4,111.1 C609.4,111.2 608.6,111.3 608.0,111.9 C607.4,112.5 607.1,113.8 606.9,114.7 C606.6,115.6 606.7,116.5 606.5,117.5 C606.3,118.5 605.9,119.7 605.5,120.4 C605.1,121.1 604.8,122.0 604.4,121.8 C604.0,121.5 603.6,119.6 603.0,118.9 C602.4,118.2 601.1,118.0 600.6,117.5 C600.1,117.0 600.0,116.4 600.2,116.1 C600.4,115.8 601.4,116.0 602.0,115.8 C602.6,115.6 603.6,115.5 604.1,115.1 C604.6,114.7 604.9,114.0 605.1,113.3 C605.3,112.6 605.7,111.5 605.5,110.8 C605.3,110.1 604.9,109.6 604.1,109.1 C603.3,108.6 601.8,108.4 600.6,108.0 C599.4,107.6 598.2,107.1 597.0,106.6 C595.8,106.1 594.6,105.6 593.5,104.9 C592.4,104.2 591.3,103.3 590.3,102.6 C589.3,101.9 588.1,101.3 587.5,100.7 C586.9,100.1 586.4,99.6 586.6,98.8 C586.8,98.0 587.8,96.9 588.5,96.0 C589.2,95.1 589.9,93.8 590.8,93.2 C591.7,92.6 593.3,92.8 594.1,92.3 C594.9,91.8 595.1,91.0 595.5,89.9 C595.9,88.8 596.1,87.0 596.4,85.7 C596.7,84.4 596.9,83.3 597.4,81.9 C597.9,80.5 598.8,78.5 599.3,77.2 C599.8,75.9 600.2,74.9 600.7,73.9 C601.2,72.9 601.9,71.3 602.4,71.4 Z"/></clipPath>
<clipPath id="rm_n"><path d="M530.0,30.0 L810.0,30.0 L810.0,271.3 L674.0,269.5 L669.0,269.2 L665.2,267.8 L664.8,265.0 L662.5,262.6 L659.0,261.2 L657.2,259.5 L657.2,255.0 L655.8,251.5 L652.7,249.3 L646.9,246.3 L640.5,242.5 L636.8,240.3 L633.3,237.3 L631.5,234.5 L628.7,231.5 L624.1,230.5 L618.3,229.2 L614.0,228.8 L530.0,228.8 Z"/></clipPath>
<clipPath id="rm_s"><path d="M530.0,228.8 L614.0,228.8 L618.3,229.2 L624.1,230.5 L628.7,231.5 L631.5,234.5 L633.3,237.3 L636.8,240.3 L640.5,242.5 L646.9,246.3 L652.7,249.3 L655.8,251.5 L657.2,255.0 L657.2,259.5 L659.0,261.2 L662.5,262.6 L664.8,265.0 L665.2,267.8 L669.0,269.2 L674.0,269.5 L810.0,271.3 L810.0,440.0 L530.0,440.0 Z"/></clipPath>
<g clip-path="url(#rm_o)">
<rect x="550" y="60" width="220" height="370" fill="#ffb4b7"/>
<g clip-path="url(#rm_n)">
<path d="M687.0,92.8 C688.4,91.8 690.5,91.0 692.7,90.4 C694.9,89.8 697.5,89.2 700.0,89.2 C702.5,89.2 705.3,89.8 707.9,90.4 C710.5,91.0 713.8,92.0 715.7,93.0 C717.6,94.0 718.5,95.0 719.5,96.5 C720.5,98.0 721.4,100.5 721.4,102.3 C721.4,104.1 720.6,106.1 719.5,107.5 C718.4,108.9 716.6,109.6 715.0,110.5 C713.4,111.4 711.4,111.7 709.9,112.7 C708.4,113.7 707.0,115.1 706.0,116.5 C705.0,117.9 704.4,119.6 703.6,121.2 C702.9,122.8 702.2,124.6 701.5,126.0 C700.8,127.4 700.5,128.7 699.4,129.6 C698.3,130.5 696.4,130.8 695.0,131.5 C693.6,132.2 692.0,132.7 690.9,133.8 C689.8,134.9 689.0,136.6 688.5,138.0 C688.0,139.4 687.9,140.2 688.0,142.3 C688.1,144.4 687.7,148.9 688.9,150.7 C690.1,152.4 692.4,152.5 695.2,152.8 C698.0,153.2 703.0,152.9 705.8,152.8 C708.6,152.7 705.5,152.5 712.0,152.0 C718.5,151.5 739.5,126.2 745.0,150.0 C750.5,173.8 757.2,272.7 745.0,295.0 C732.8,317.3 685.1,286.6 672.0,284.0 C658.9,281.4 667.9,281.2 666.3,279.2 C664.6,277.2 663.5,274.0 662.1,272.1 C660.7,270.2 659.5,269.5 657.9,267.9 C656.3,266.3 654.2,264.2 652.3,262.3 C650.4,260.4 648.0,258.7 646.6,256.6 C645.2,254.5 644.9,252.0 643.8,249.6 C642.7,247.2 641.2,244.2 640.0,242.0 C638.8,239.8 636.4,237.8 636.4,236.3 C636.4,234.8 638.5,234.0 639.9,232.8 C641.3,231.6 643.2,230.9 644.6,229.3 C646.0,227.7 647.3,225.8 648.2,223.4 C649.1,221.1 649.5,218.5 649.8,215.2 C650.1,211.9 650.1,206.9 649.8,203.4 C649.5,199.9 649.1,196.7 648.2,194.0 C647.3,191.3 646.2,188.9 644.6,187.0 C643.0,185.1 640.4,184.3 638.8,182.3 C637.2,180.3 635.9,178.3 635.2,175.2 C634.5,172.1 634.9,167.4 634.8,163.5 C634.7,159.6 634.7,155.6 634.8,151.7 C634.9,147.8 635.0,143.6 635.2,140.0 C635.5,136.4 635.8,133.3 636.3,130.1 C636.8,126.9 637.2,122.9 638.4,121.0 C639.6,119.1 641.6,119.4 643.3,118.8 C644.9,118.2 647.0,118.1 648.3,117.4 C649.6,116.7 650.5,115.9 651.1,114.6 C651.7,113.3 651.2,111.1 651.8,109.7 C652.4,108.3 653.4,107.0 654.6,106.1 C655.8,105.1 656.7,104.6 658.8,104.0 C660.9,103.4 664.5,102.9 667.3,102.6 C670.1,102.2 673.4,102.2 675.8,101.9 C678.1,101.6 680.0,101.4 681.4,100.5 C682.8,99.6 683.3,97.6 684.2,96.3 C685.1,95.0 685.6,93.8 687.0,92.8 Z" fill="#ff797d"/>
</g>
<g clip-path="url(#rm_s)">
<path d="M636.0,242.0 C628.1,243.9 641.2,245.6 642.6,247.3 C644.0,249.0 643.7,250.5 644.4,252.0 C645.1,253.5 645.7,254.8 646.7,256.1 C647.7,257.4 648.9,258.6 650.2,259.6 C651.5,260.7 653.2,261.4 654.5,262.4 C655.8,263.4 656.5,264.4 657.7,265.6 C658.9,266.8 660.9,268.6 661.9,269.8 C662.9,271.0 663.3,271.8 664.0,273.0 C664.7,274.2 665.5,276.0 666.1,277.2 C666.7,278.4 667.2,279.4 667.7,280.4 C668.2,281.4 665.3,282.6 669.0,283.0 C672.7,283.4 686.5,290.8 690.0,283.0 C693.5,275.2 699.0,242.8 690.0,236.0 C681.0,229.2 643.9,240.1 636.0,242.0 Z" fill="#ff797d"/>
<path d="M598.7,338.6 C599.6,337.1 601.1,336.3 604.0,335.1 C606.9,333.9 612.8,332.5 616.3,331.6 C619.8,330.7 621.9,329.8 625.1,329.8 C628.3,329.8 633.0,330.7 635.6,331.6 C638.2,332.5 639.4,333.1 640.9,335.1 C642.4,337.2 642.6,341.8 644.4,343.9 C646.2,345.9 648.6,346.5 651.5,347.4 C654.4,348.3 659.8,348.0 662.0,349.2 C664.2,350.4 664.9,352.1 664.9,354.4 C664.9,356.7 662.0,360.6 662.0,363.2 C662.0,365.8 660.3,368.9 665.0,370.0 C669.7,371.1 685.8,360.0 690.0,370.0 C694.2,380.0 707.0,420.0 690.0,430.0 C673.0,440.0 605.0,438.7 588.0,430.0 C571.0,421.3 586.7,387.2 588.0,378.0 C589.3,368.8 594.8,376.6 596.0,375.0 C597.2,373.4 595.0,371.9 595.2,368.5 C595.4,365.1 596.4,358.5 597.0,354.4 C597.6,350.3 598.4,346.5 598.7,343.9 C599.0,341.3 597.8,340.1 598.7,338.6 Z" fill="#ff797d"/>
<path d="M614.4,393.5 C615.8,391.4 617.0,388.7 618.5,387.6 C620.0,386.5 621.7,386.7 623.2,387.0 C624.8,387.3 625.8,389.2 627.8,389.4 C629.8,389.6 632.8,388.1 634.9,388.2 C637.0,388.3 639.1,388.8 640.7,389.9 C642.3,391.0 643.7,392.8 644.3,394.6 C644.9,396.4 644.5,398.7 644.3,400.5 C644.1,402.3 642.5,403.9 643.1,405.2 C643.7,406.5 646.8,407.2 647.8,408.1 C648.8,409.0 648.3,406.9 649.0,410.5 C649.7,414.1 658.8,426.8 652.0,430.0 C645.2,433.2 615.0,435.0 608.0,430.0 C601.0,425.0 608.9,406.1 610.0,400.0 C611.1,393.9 613.0,395.6 614.4,393.5 Z" fill="#ffb4b7"/>
</g>
</g>
<path d="M658.0,93.4 L661.6,95.2 L666.1,97.1 M684.0,72.9 L687.5,72.5 L689.2,72.9 M709.6,75.3 L713.2,76.2 M727.5,76.4 L730.2,77.9 M592.2,92.2 L594.2,92.2 M600.2,116.0 L602.0,115.7 L604.1,115.0 M693.0,73.9 L694.6,74.0 M698.0,73.2 L699.8,73.0 M717.7,74.4 L720.4,74.0 M752.0,88.5 L754.6,88.7 M635.0,95.3 L637.5,95.3 M611.0,83.4 L614.5,84.5 M596.4,82.2 L596.9,84.2 M586.6,98.4 L587.1,99.6 M599.4,73.6 L600.3,74.6 M624.8,87.2 L626.2,87.6 M645.4,93.4 L646.6,93.2 M677.6,79.6 L677.8,81.0 M627.7,147.6 L628.6,148.4" fill="none" stroke="#2a2a2a" stroke-opacity="0.5" stroke-width="0.9" stroke-linecap="round"/>
<path d="M618.6,232.3 L622.2,233.0 L627.1,233.7 L628.5,235.8 L629.9,238.6 L632.0,240.7 L634.1,242.8 L635.5,244.9 L637.8,245.6 L642.0,247.0 L646.3,249.1 L650.5,250.6 L654.0,252.7 L654.4,254.4 L654.7,259.3 L655.5,262.8 L657.2,263.9 L660.9,265.0 L663.0,267.4 L664.2,270.3 L669.1,271.5" fill="none" stroke="#3a3a3a" stroke-opacity="0.5" stroke-width="1.2" transform="translate(0,0.5)"/>
<path d="M616.0,226.0 L618.6,226.3 L622.2,227.7 L627.1,228.5 L630.6,229.9 L632.7,232.3 L634.1,234.1 L635.5,235.2 L637.1,236.5 L638.2,240.0 L642.0,241.5 L645.6,242.9 L649.1,245.0 L652.6,246.7 L655.4,247.8 L657.5,249.2 L659.3,251.3 L659.6,254.1 L659.6,257.0 L661.0,258.3 L664.2,259.7 L665.8,261.4 L666.7,264.7 L669.1,266.3 L672.0,266.7 L675.0,266.7 L675.0,271.8 L669.1,271.5 L664.2,270.3 L663.0,267.4 L660.9,265.0 L657.2,263.9 L655.5,262.8 L654.7,259.3 L654.4,254.4 L654.0,252.7 L650.5,250.6 L646.3,249.1 L642.0,247.0 L637.8,245.6 L635.5,244.9 L634.1,242.8 L632.0,240.7 L629.9,238.6 L628.5,235.8 L627.1,233.7 L622.2,233.0 L618.6,232.3 L616.0,232.3 Z" fill="#ffffff"/>
<path d="M628.3,400.7 L629.0,402.6 L630.9,403.3 L629.0,404.0 L628.3,405.9 L627.6,404.0 L625.7,403.3 L627.6,402.6 Z" fill="#ffe9e9"/>
<g class="lg"><rect x="89" y="58.00" width="22" height="21.99" fill="#9a4a9c"/>
<rect x="89" y="79.69" width="22" height="21.99" fill="#5c4aa8"/>
<rect x="89" y="101.38" width="22" height="21.99" fill="#5358aa"/>
<rect x="89" y="123.06" width="22" height="21.99" fill="#6b7cc0"/>
<rect x="89" y="144.75" width="22" height="21.99" fill="#a5a3d6"/>
<rect x="89" y="166.44" width="22" height="21.99" fill="#93bcd6"/>
<rect x="89" y="188.12" width="22" height="21.99" fill="#55a98e"/>
<rect x="89" y="209.81" width="22" height="21.99" fill="#47a86c"/>
<rect x="89" y="231.50" width="22" height="21.99" fill="#72be6e"/>
<rect x="89" y="253.19" width="22" height="21.99" fill="#a8d170"/>
<rect x="89" y="274.88" width="22" height="21.99" fill="#d9e06c"/>
<rect x="89" y="296.56" width="22" height="21.99" fill="#fdf72c"/>
<rect x="89" y="318.25" width="22" height="21.99" fill="#ffe100"/>
<rect x="89" y="339.94" width="22" height="21.99" fill="#f7ac31"/>
<rect x="89" y="361.62" width="22" height="21.99" fill="#f48431"/>
<rect x="89" y="383.31" width="22" height="21.99" fill="#f26c2a"/>
<text x="18.80" y="64.40" textLength="35.40" lengthAdjust="spacingAndGlyphs">1000</text>
<text x="56.0" y="64.40" textLength="23.8" lengthAdjust="spacingAndGlyphs">mm</text>
<text x="27.65" y="85.88" textLength="26.55" lengthAdjust="spacingAndGlyphs">500</text>
<text x="56.0" y="85.88" textLength="23.8" lengthAdjust="spacingAndGlyphs">mm</text>
<text x="27.65" y="107.36" textLength="26.55" lengthAdjust="spacingAndGlyphs">450</text>
<text x="56.0" y="107.36" textLength="23.8" lengthAdjust="spacingAndGlyphs">mm</text>
<text x="27.65" y="128.84" textLength="26.55" lengthAdjust="spacingAndGlyphs">400</text>
<text x="56.0" y="128.84" textLength="23.8" lengthAdjust="spacingAndGlyphs">mm</text>
<text x="27.65" y="150.33" textLength="26.55" lengthAdjust="spacingAndGlyphs">350</text>
<text x="56.0" y="150.33" textLength="23.8" lengthAdjust="spacingAndGlyphs">mm</text>
<text x="27.65" y="171.81" textLength="26.55" lengthAdjust="spacingAndGlyphs">300</text>
<text x="56.0" y="171.81" textLength="23.8" lengthAdjust="spacingAndGlyphs">mm</text>
<text x="27.65" y="193.29" textLength="26.55" lengthAdjust="spacingAndGlyphs">250</text>
<text x="56.0" y="193.29" textLength="23.8" lengthAdjust="spacingAndGlyphs">mm</text>
<text x="27.65" y="214.77" textLength="26.55" lengthAdjust="spacingAndGlyphs">200</text>
<text x="56.0" y="214.77" textLength="23.8" lengthAdjust="spacingAndGlyphs">mm</text>
<text x="27.65" y="236.25" textLength="26.55" lengthAdjust="spacingAndGlyphs">150</text>
<text x="56.0" y="236.25" textLength="23.8" lengthAdjust="spacingAndGlyphs">mm</text>
<text x="27.65" y="257.73" textLength="26.55" lengthAdjust="spacingAndGlyphs">100</text>
<text x="56.0" y="257.73" textLength="23.8" lengthAdjust="spacingAndGlyphs">mm</text>
<text x="36.50" y="279.21" textLength="17.70" lengthAdjust="spacingAndGlyphs">75</text>
<text x="56.0" y="279.21" textLength="23.8" lengthAdjust="spacingAndGlyphs">mm</text>
<text x="36.50" y="300.69" textLength="17.70" lengthAdjust="spacingAndGlyphs">50</text>
<text x="56.0" y="300.69" textLength="23.8" lengthAdjust="spacingAndGlyphs">mm</text>
<text x="36.50" y="322.18" textLength="17.70" lengthAdjust="spacingAndGlyphs">30</text>
<text x="56.0" y="322.18" textLength="23.8" lengthAdjust="spacingAndGlyphs">mm</text>
<text x="36.50" y="343.66" textLength="17.70" lengthAdjust="spacingAndGlyphs">20</text>
<text x="56.0" y="343.66" textLength="23.8" lengthAdjust="spacingAndGlyphs">mm</text>
<text x="36.50" y="365.14" textLength="17.70" lengthAdjust="spacingAndGlyphs">10</text>
<text x="56.0" y="365.14" textLength="23.8" lengthAdjust="spacingAndGlyphs">mm</text>
<text x="45.35" y="386.62" textLength="8.85" lengthAdjust="spacingAndGlyphs">5</text>
<text x="56.0" y="386.62" textLength="23.8" lengthAdjust="spacingAndGlyphs">mm</text>
<text x="45.35" y="408.10" textLength="8.85" lengthAdjust="spacingAndGlyphs">0</text>
<text x="56.0" y="408.10" textLength="23.8" lengthAdjust="spacingAndGlyphs">mm</text>
<rect x="481" y="58.00" width="19" height="35.00" fill="#2e5bb0"/>
<rect x="481" y="92.70" width="19" height="35.00" fill="#3d82cb"/>
<rect x="481" y="127.40" width="19" height="35.00" fill="#52a3e0"/>
<rect x="481" y="162.10" width="19" height="35.00" fill="#5bc8f0"/>
<rect x="481" y="196.80" width="19" height="35.00" fill="#aadff0"/>
<rect x="481" y="231.50" width="19" height="35.00" fill="#fdf4f4"/>
<rect x="481" y="266.20" width="19" height="35.00" fill="#fde2e0"/>
<rect x="481" y="300.90" width="19" height="35.00" fill="#f4b1b1"/>
<rect x="481" y="335.60" width="19" height="35.00" fill="#f17b88"/>
<rect x="481" y="370.30" width="19" height="35.00" fill="#f54450"/>
<text x="512.2" y="64.20" textLength="25.65" lengthAdjust="spacingAndGlyphs">500</text>
<text x="540.05" y="64.20" textLength="11.9" lengthAdjust="spacingAndGlyphs">%</text>
<text x="512.2" y="98.73" textLength="25.65" lengthAdjust="spacingAndGlyphs">300</text>
<text x="537.65" y="98.73" textLength="11.9" lengthAdjust="spacingAndGlyphs">%</text>
<text x="512.2" y="133.26" textLength="25.65" lengthAdjust="spacingAndGlyphs">200</text>
<text x="537.65" y="133.26" textLength="11.9" lengthAdjust="spacingAndGlyphs">%</text>
<text x="512.2" y="167.79" textLength="25.65" lengthAdjust="spacingAndGlyphs">150</text>
<text x="537.65" y="167.79" textLength="11.9" lengthAdjust="spacingAndGlyphs">%</text>
<text x="512.2" y="202.32" textLength="25.65" lengthAdjust="spacingAndGlyphs">125</text>
<text x="537.65" y="202.32" textLength="11.9" lengthAdjust="spacingAndGlyphs">%</text>
<text x="512.2" y="236.85" textLength="25.65" lengthAdjust="spacingAndGlyphs">110</text>
<text x="537.65" y="236.85" textLength="11.9" lengthAdjust="spacingAndGlyphs">%</text>
<text x="512.2" y="271.38" textLength="17.10" lengthAdjust="spacingAndGlyphs">90</text>
<text x="529.10" y="271.38" textLength="11.9" lengthAdjust="spacingAndGlyphs">%</text>
<text x="512.2" y="305.91" textLength="17.10" lengthAdjust="spacingAndGlyphs">75</text>
<text x="529.10" y="305.91" textLength="11.9" lengthAdjust="spacingAndGlyphs">%</text>
<text x="512.2" y="340.44" textLength="17.10" lengthAdjust="spacingAndGlyphs">50</text>
<text x="529.10" y="340.44" textLength="11.9" lengthAdjust="spacingAndGlyphs">%</text>
<text x="512.2" y="374.97" textLength="17.10" lengthAdjust="spacingAndGlyphs">25</text>
<text x="531.50" y="374.97" textLength="11.9" lengthAdjust="spacingAndGlyphs">%</text>
<text x="512.2" y="409.50" textLength="8.55" lengthAdjust="spacingAndGlyphs">0</text>
<text x="522.95" y="409.50" textLength="11.9" lengthAdjust="spacingAndGlyphs">%</text></g>
<text x="50.50" y="29.7" class="title" textLength="111.88" lengthAdjust="spacingAndGlyphs">Précipitations</text>
<text x="166.00" y="29.7" class="title" textLength="39.46" lengthAdjust="spacingAndGlyphs">mars</text>
<text x="210.88" y="29.7" class="title" textLength="42.66" lengthAdjust="spacingAndGlyphs">2026</text>
<text x="449.50" y="29.7" class="title" textLength="65.24" lengthAdjust="spacingAndGlyphs">Rapport</text>
<text x="519.04" y="29.7" class="title" textLength="8.96" lengthAdjust="spacingAndGlyphs">à</text>
<text x="533.46" y="29.7" class="title" textLength="12.54" lengthAdjust="spacingAndGlyphs">la</text>
<text x="551.54" y="29.7" class="title" textLength="65.42" lengthAdjust="spacingAndGlyphs">normale</text>
<text x="622.34" y="29.7" class="title" textLength="35.98" lengthAdjust="spacingAndGlyphs">pour</text>
<text x="663.50" y="29.7" class="title" textLength="39.04" lengthAdjust="spacingAndGlyphs">mars</text>
<text x="707.84" y="29.7" class="title" textLength="42.28" lengthAdjust="spacingAndGlyphs">2026</text>
<text x="227.6" y="175.0" textLength="78.6" lengthAdjust="spacingAndGlyphs" class="city halo">STRASBOURG</text><text x="227.6" y="175.0" textLength="78.6" lengthAdjust="spacingAndGlyphs" class="city">STRASBOURG</text>
<text x="185.0" y="282.3" textLength="50.2" lengthAdjust="spacingAndGlyphs" class="city halo">COLMAR</text><text x="185.0" y="282.3" textLength="50.2" lengthAdjust="spacingAndGlyphs" class="city">COLMAR</text>
<text x="655.8" y="175.0" textLength="78.6" lengthAdjust="spacingAndGlyphs" class="city halo">STRASBOURG</text><text x="655.8" y="175.0" textLength="78.6" lengthAdjust="spacingAndGlyphs" class="city">STRASBOURG</text>
<text x="612.5" y="282.3" textLength="50.2" lengthAdjust="spacingAndGlyphs" class="city halo">COLMAR</text><text x="612.5" y="282.3" textLength="50.2" lengthAdjust="spacingAndGlyphs" class="city">COLMAR</text>
</svg>
</body></html>
